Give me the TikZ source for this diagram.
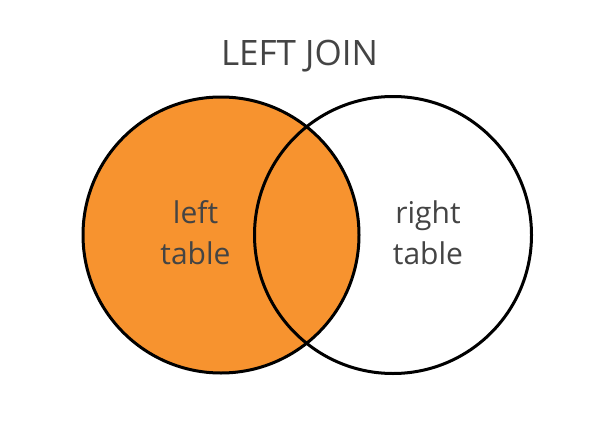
\documentclass[tikz,border=0pt]{standalone}
\usepackage{fontspec}
\setmainfont{Open Sans}
\definecolor{joinorange}{HTML}{F7932F}
\definecolor{labelgray}{HTML}{444444}
\begin{document}
\begin{tikzpicture}[x=1pt,y=-1pt,
  setcircle/.style={draw=black,line width=3pt},
  lbl/.style={text=labelgray,font=\fontsize{30}{41}\selectfont,align=center,inner sep=0pt},
  ttl/.style={text=labelgray,font=\fontsize{35}{40}\selectfont,inner sep=0pt,anchor=base}]
\useasboundingbox[fill=white] (0,0) rectangle (610,428);
\fill[joinorange] (221,235) circle (138);
\draw[setcircle] (221,235) circle (138);
\draw[setcircle] (393,235) circle (138.5);
\node[ttl] (title) at (299.5,66) {LEFT JOIN};
\node[lbl,anchor=base] (left1) at (195.5,223) {left};
\node[lbl,anchor=base] (left2) at (195.5,264) {table};
\node[lbl,anchor=base] (right1) at (428,223) {right};
\node[lbl,anchor=base] (right2) at (428,264) {table};
\end{tikzpicture}
\end{document}
